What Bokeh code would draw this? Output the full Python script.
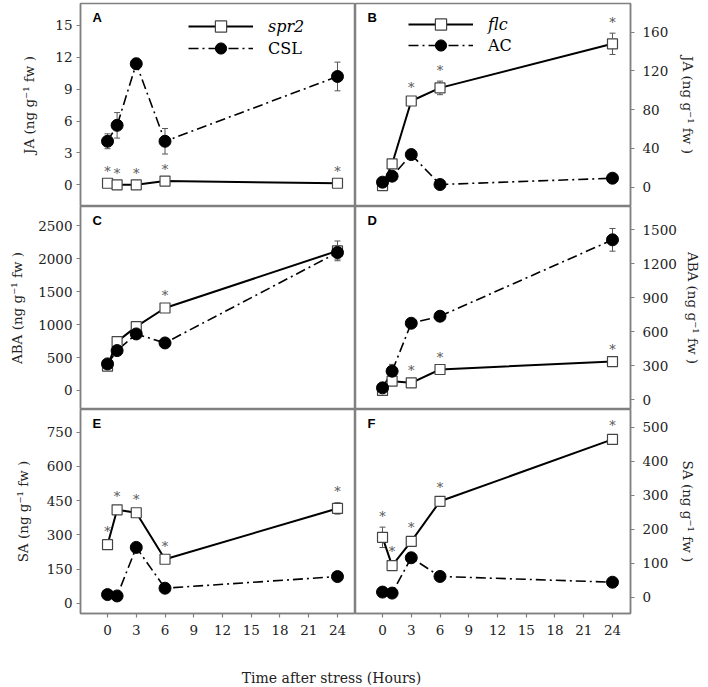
from bokeh.plotting import figure
from bokeh.layouts import column, row
from bokeh.models import (Range1d, FixedTicker, Whisker, TeeHead, ColumnDataSource,
                          Label, Legend, LegendItem)
from bokeh.core.properties import value
from bokeh.embed import file_html
from bokeh.resources import INLINE

# ---------------- data ----------------
hours = [0, 1, 3, 6, 24]
x_ticks = [0, 3, 6, 9, 12, 15, 18, 21, 24]

# Panel A: JA, spr2 vs CSL
ja_spr2 = [0.15, 0.0, 0.0, 0.35, 0.15]
ja_spr2_err = [0.1, 0.05, 0.05, 0.1, 0.1]
ja_spr2_sig = [True, True, True, True, True]
ja_csl = [4.1, 5.6, 11.4, 4.1, 10.2]
ja_csl_err = [0.7, 1.2, 0.5, 1.2, 1.35]
ja_ticks_left = [0, 3, 6, 9, 12, 15]

# Panel B: JA, flc vs AC
ja_flc = [1.7, 24, 89, 102.5, 148]
ja_flc_err = [1, 2, 3, 7, 11]
ja_flc_sig = [False, False, True, True, True]
ja_ac = [5.2, 11.4, 33.7, 2.8, 9.3]
ja_ac_err = [1, 1, 2, 1, 1]
ja_ticks_right = [0, 40, 80, 120, 160]

# Panel C: ABA, spr2 vs CSL
aba_spr2 = [369, 742, 970, 1253, 2121]
aba_spr2_err = [40, 30, 30, 30, 150]
aba_spr2_sig = [False, False, False, True, False]
aba_csl = [404, 606, 859, 722, 2096]
aba_csl_err = [30, 30, 30, 30, 100]
aba_ticks_left = [0, 500, 1000, 1500, 2000, 2500]

# Panel D: ABA, flc vs AC
aba_flc = [80, 162, 147, 265, 335]
aba_flc_err = [20, 15, 10, 10, 10]
aba_flc_sig = [False, False, True, True, True]
aba_ac = [103, 250, 673, 735, 1409]
aba_ac_err = [20, 60, 20, 20, 100]
aba_ticks_right = [0, 300, 600, 900, 1200, 1500]

# Panel E: SA, spr2 vs CSL
sa_spr2 = [257, 410, 397, 193, 416]
sa_spr2_err = [10, 8, 8, 8, 25]
sa_spr2_sig = [True, True, True, True, True]
sa_csl = [38, 32, 245, 66, 117]
sa_csl_err = [5, 5, 10, 5, 5]
sa_ticks_left = [0, 150, 300, 450, 600, 750]

# Panel F: SA, flc vs AC
sa_flc = [176, 93, 164, 282, 464]
sa_flc_err = [30, 10, 10, 8, 8]
sa_flc_sig = [True, True, True, True, True]
sa_ac = [15, 12, 116, 61, 44]
sa_ac_err = [3, 3, 5, 3, 3]
sa_ticks_right = [0, 100, 200, 300, 400, 500]

SERIF = "DejaVu Serif"
GRAY = "#808080"
DARK = "#555555"


def style_axis(ax, standoff):
    ax.axis_line_color = GRAY
    ax.axis_line_width = 1.5
    ax.major_tick_line_color = GRAY
    ax.major_tick_line_width = 1.2
    ax.major_tick_out = 4
    ax.major_tick_in = 0
    ax.minor_tick_line_color = None
    ax.major_label_text_font = SERIF
    ax.major_label_text_font_size = "13.5px"
    ax.major_label_text_color = "#222222"
    ax.major_label_standoff = standoff
    ax.axis_label_text_font = SERIF
    ax.axis_label_text_font_size = "13.5px"
    ax.axis_label_text_font_style = "normal"
    ax.axis_label_text_color = "#222222"


def make_panel(letter, side, has_x, fh, y_lo, y_hi, yticks, ylabel, ylab_standoff,
               mut, mut_err, mut_sig, mut_name, wt, wt_err, wt_name, legend_pos):
    left = side == "left"
    top_b = 3 if letter in "AB" else 0
    bot_b = 30 if has_x else 0
    p = figure(frame_width=275, frame_height=fh,
               x_range=Range1d(-2.82, 25.88), y_range=Range1d(y_lo, y_hi),
               x_axis_location="below" if has_x else None,
               y_axis_location=side, toolbar_location=None, output_backend="svg",
               min_border_left=80 if left else 0, min_border_right=0 if left else 76,
               min_border_top=top_b, min_border_bottom=bot_b)
    p.grid.visible = False
    p.outline_line_color = GRAY
    p.outline_line_width = 1.5
    p.background_fill_color = "white"

    yax = p.yaxis[0]
    yax.ticker = FixedTicker(ticks=yticks)
    yax.axis_label = ylabel
    yax.axis_label_standoff = ylab_standoff
    style_axis(yax, 4 if left else 8)
    if has_x:
        xax = p.xaxis[0]
        xax.ticker = FixedTicker(ticks=x_ticks)
        style_axis(xax, 7)

    src_m = ColumnDataSource(dict(x=hours, y=mut,
                                  upper=[a + b for a, b in zip(mut, mut_err)],
                                  lower=[a - b for a, b in zip(mut, mut_err)]))
    src_w = ColumnDataSource(dict(x=hours, y=wt,
                                  upper=[a + b for a, b in zip(wt, wt_err)],
                                  lower=[a - b for a, b in zip(wt, wt_err)]))
    for src in (src_m, src_w):
        p.add_layout(Whisker(source=src, base="x", upper="upper", lower="lower",
                             line_color=DARK, line_width=1,
                             upper_head=TeeHead(size=6, line_color=DARK, line_width=1),
                             lower_head=TeeHead(size=6, line_color=DARK, line_width=1)))

    lw = p.line("x", "y", source=src_w, line_color="black", line_width=1.6,
                line_dash="10 4 2 4")
    lm = p.line("x", "y", source=src_m, line_color="black", line_width=2)
    sm = p.scatter("x", "y", source=src_m, marker="square", size=10,
                   fill_color="white", line_color="#444444", line_width=1.2)
    sw = p.scatter("x", "y", source=src_w, marker="circle", size=12,
                   fill_color="black", line_color="black")

    sig_x = [x for x, s in zip(hours, mut_sig) if s]
    sig_y = [y + e for y, e, s in zip(mut, mut_err, mut_sig) if s]
    p.text(x=sig_x, y=sig_y, text=["*"] * len(sig_x), text_font=value(SERIF),
           text_font_size="13px", text_color="#555555", text_align="center",
           text_baseline="middle", y_offset=-11)

    p.add_layout(Label(x=12, y=fh - 6, x_units="screen", y_units="screen", text=letter,
                       text_font="Liberation Sans", text_font_style="bold",
                       text_font_size="13px", text_baseline="top", text_color="black"))

    if legend_pos is not None:
        (vx1, vy1), (vx2, vy2) = legend_pos
        for name, rends, italic, (vx, vy) in ((mut_name, [lm, sm], True, (vx1, vy1)),
                                              (wt_name, [lw, sw], False, (vx2, vy2))):
            lg = Legend(items=[LegendItem(label=name, renderers=rends)], location=(vx, vy),
                        glyph_width=65, glyph_height=28, label_height=28, label_standoff=15,
                        padding=0, margin=0, spacing=0, border_line_color=None,
                        background_fill_alpha=0, label_text_font=SERIF,
                        label_text_font_size="16px",
                        label_text_font_style="italic" if italic else "normal",
                        label_text_color="black")
            p.add_layout(lg)
    return p


lab_ja = "JA (ng g\u207b\u00b9 fw )"
lab_aba = "ABA (ng g\u207b\u00b9 fw )"
lab_sa = "SA (ng g\u207b\u00b9 fw )"

pA = make_panel("A", "left", False, 203, -2.04, 17.07, ja_ticks_left, lab_ja, 15,
                ja_spr2, ja_spr2_err, ja_spr2_sig, "spr2", ja_csl, ja_csl_err, "CSL",
                ((108, 166), (108, 144)))
pB = make_panel("B", "right", False, 203, -19.9, 189.6, ja_ticks_right, lab_ja, 9,
                ja_flc, ja_flc_err, ja_flc_sig, "flc", ja_ac, ja_ac_err, "AC",
                ((53, 168), (53, 147)))
pC = make_panel("C", "left", False, 203, -289, 2795, aba_ticks_left, lab_aba, 10,
                aba_spr2, aba_spr2_err, aba_spr2_sig, "spr2", aba_csl, aba_csl_err, "CSL",
                None)
pD = make_panel("D", "right", False, 203, -88, 1703, aba_ticks_right, lab_aba, 5,
                aba_flc, aba_flc_err, aba_flc_sig, "flc", aba_ac, aba_ac_err, "AC",
                None)
pE = make_panel("E", "left", True, 204, -45, 850, sa_ticks_left, lab_sa, 13,
                sa_spr2, sa_spr2_err, sa_spr2_sig, "spr2", sa_csl, sa_csl_err, "CSL",
                None)
pF = make_panel("F", "right", True, 204, -48, 552, sa_ticks_right, lab_sa, 9,
                sa_flc, sa_flc_err, sa_flc_sig, "flc", sa_ac, sa_ac_err, "AC",
                None)

pT = figure(width=706, height=42, x_range=Range1d(0, 1), y_range=Range1d(0, 1),
            x_axis_location=None, y_axis_location=None, toolbar_location=None,
            output_backend="svg", min_border=0)
pT.outline_line_color = None
pT.grid.visible = False
pT.add_layout(Label(x=331, y=8, x_units="screen", y_units="screen",
                    text="Time after stress (Hours)", text_align="center",
                    text_baseline="middle", text_font=SERIF, text_font_size="14px",
                    text_color="#222222"))

layout = column(row(pA, pB), row(pC, pD), row(pE, pF), pT)

with open("out.html", "w") as f:
    f.write(file_html(layout, INLINE))
